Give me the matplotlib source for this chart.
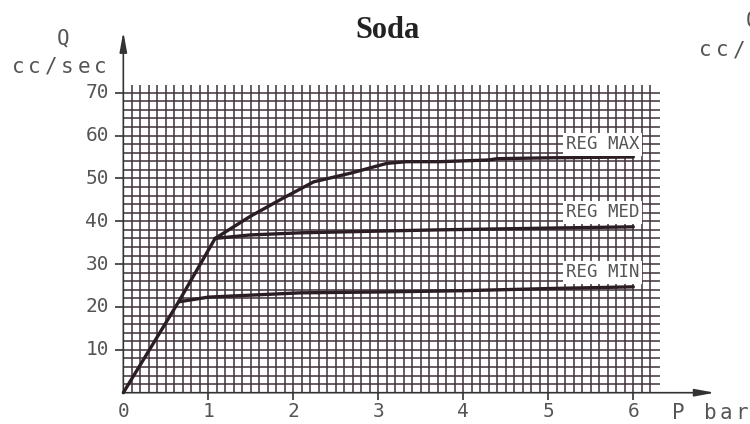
import matplotlib
matplotlib.use('Agg')
import matplotlib.pyplot as plt
import numpy as np

W, H = 750, 424

# Curve data (P in bar, Q in cc/sec)
rise_p = [0.0, 0.65, 1.08]
rise_q = [0.0, 21.2, 36.0]

max_p = [1.08, 1.49, 1.88, 2.24, 2.67, 3.10, 3.33, 3.73, 4.30, 4.40, 5.00, 6.00]
max_q = [36.0, 41.1, 45.4, 49.2, 51.2, 53.5, 53.9, 53.9, 54.3, 54.6, 54.8, 55.0]

med_p = [1.08, 1.49, 2.08, 3.00, 3.73, 5.00, 6.00]
med_q = [36.0, 36.8, 37.3, 37.7, 38.0, 38.4, 38.7]

min_p = [0.65, 1.00, 2.08, 3.00, 4.00, 5.00, 6.00]
min_q = [21.2, 22.3, 23.3, 23.5, 23.8, 24.3, 24.7]

curve_labels = ['REG MAX', 'REG MED', 'REG MIN']
label_q = [58.0, 42.1, 28.1]

x_ticks = [0, 1, 2, 3, 4, 5, 6]
y_ticks = [10, 20, 30, 40, 50, 60, 70]

GRID = '#40303a'
INK = '#2b1d24'
AXIS = '#333333'
GRAY = '#555555'
MONO = 'DejaVu Sans Mono'

fig = plt.figure(figsize=(W / 100, H / 100), dpi=100)
ax = fig.add_axes([0, 0, 1, 1])
ax.set_xlim(-1.451, 7.373)
ax.set_ylim(-7.30, 91.62)
ax.axis('off')

# graph paper
ax.hlines(np.arange(2, 71, 2), 0, 6.32, color=GRID, lw=1.1, zorder=1)
ax.vlines(np.arange(0.1, 6.25, 0.1), 0, 71.8, color=GRID, lw=1.1, zorder=1)

# axes with arrows
arrow = dict(arrowstyle='-|>,head_length=1.2,head_width=0.22', color=AXIS,
             lw=1.2, mutation_scale=10, shrinkA=0, shrinkB=0)
ax.annotate('', xy=(0, 84.2), xytext=(0, 0), arrowprops=arrow, zorder=3)
ax.annotate('', xy=(6.96, 0), xytext=(0, 0), arrowprops=arrow, zorder=3)
ax.hlines(y_ticks, -0.1, 0, color=AXIS, lw=1.2, zorder=3)
ax.vlines(x_ticks[1:], -1.7, 0, color=AXIS, lw=1.2, zorder=3)

for t in x_ticks:
    ax.text(t, -4.5, str(t), ha='center', va='center', fontsize=14,
            family=MONO, color=GRAY)
for t in y_ticks:
    ax.text(-0.17, t, str(t), ha='right', va='center', fontsize=14,
            family=MONO, color=GRAY)

# curves
for p, q in [(rise_p, rise_q), (max_p, max_q), (med_p, med_q), (min_p, min_q)]:
    ax.plot(p, q, color=INK, lw=2.4, solid_capstyle='round',
            solid_joinstyle='round', zorder=4)

for lab, q in zip(curve_labels, label_q):
    ax.text(5.64, q, lab, ha='center', va='center', fontsize=12.5, family=MONO,
            color=GRAY, zorder=5,
            bbox=dict(boxstyle='square,pad=0.15', fc='white', ec='none'))


def spaced(x, y, s, pitch, size=15):
    # technical lettering is wider than any installed font, so place per char
    x0 = x - pitch * (len(s) - 1) / 2
    for i, ch in enumerate(s):
        if ch != ' ':
            fig.text((x0 + i * pitch) / W, 1 - y / H, ch, ha='center',
                     va='center', fontsize=size, family=MONO, color=GRAY)


spaced(63, 38, 'Q', 16)
spaced(59, 67, 'cc/sec', 16.4)
spaced(710, 413, 'P bar', 16)
spaced(752, 20, 'Q', 16)
spaced(748, 50, 'cc/sec', 17)

fig.text(388 / W, 1 - 30 / H, 'Soda', ha='center', va='center', fontsize=22,
         family='Liberation Serif', fontweight='bold', color='#222222')

fig.savefig('out.png', dpi=100)
